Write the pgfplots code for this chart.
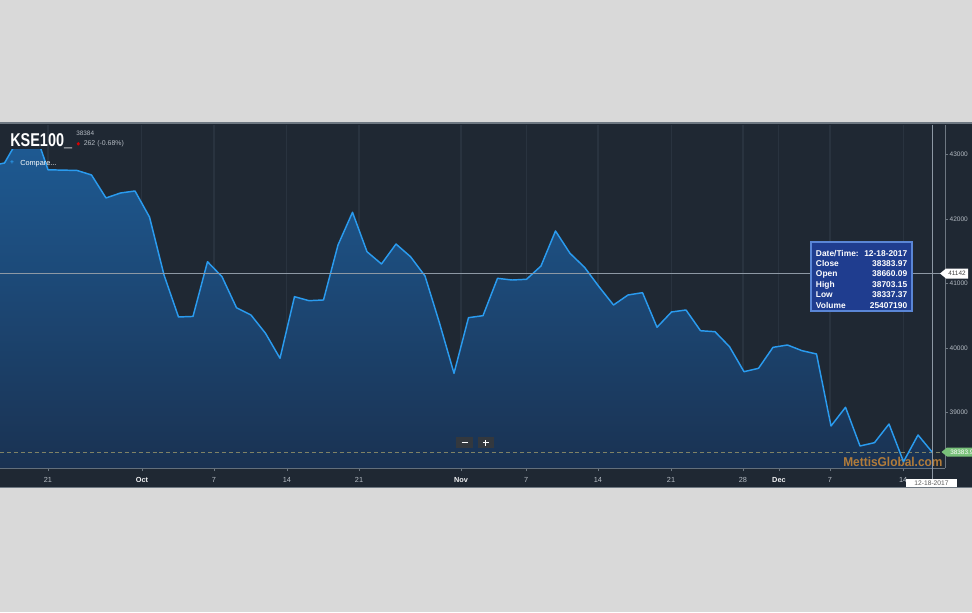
\documentclass[border=0pt]{standalone}
\usepackage{pgfplots}
\pgfplotsset{compat=1.18}
\usepackage{pgfplotstable}
\usepackage{graphicx}
\usepackage{fontspec}
\setmainfont{Liberation Sans}
\definecolor{bgout}{HTML}{D9D9D9}
\definecolor{panel}{HTML}{1F2833}
\definecolor{gridc}{HTML}{29333F}
\definecolor{axisc}{HTML}{6E7882}
\definecolor{ticklab}{HTML}{B4BBC3}
\definecolor{linec}{HTML}{2A9BEF}
\definecolor{areatop}{HTML}{1E5C96}
\definecolor{areabot}{HTML}{1A3252}
\definecolor{dashc}{HTML}{7F8266}
\definecolor{tipfill}{HTML}{1F3D8F}
\definecolor{tipdraw}{HTML}{5A86D6}
\definecolor{mettis}{HTML}{B27C3A}
\definecolor{greenlab}{HTML}{79C17A}
\definecolor{btn}{HTML}{33383E}
\definecolor{crossc}{HTML}{8D98A4}
\pgfplotstableread{
i v
-4 42819
-3 42865
-2 43252
-1 43420
0 42760
1 42755
2 42750
3 42680
4 42324
5 42401
6 42432
7 42029
8 41132
9 40482
10 40490
11 41337
12 41105
13 40625
14 40512
15 40229
16 39842
17 40796
18 40734
19 40745
20 41596
21 42102
22 41492
23 41302
24 41611
25 41415
26 41116
27 40388
28 39610
29 40471
30 40502
31 41080
32 41054
33 41065
34 41271
35 41813
36 41467
37 41251
38 40950
39 40667
40 40822
41 40858
42 40322
43 40559
44 40590
45 40269
46 40254
47 40022
48 39635
49 39687
50 40012
51 40048
52 39960
53 39909
54 38794
55 39084
56 38485
57 38536
58 38825
59 38242
60 38655
61 38384
}\kse
\begin{document}
\begin{tikzpicture}[x=0.75pt,y=0.75pt]
\useasboundingbox (0,0) rectangle (972,612);
\begin{scope}
\clip (0,0) rectangle (972,612);
\fill[bgout] (0,0) rectangle (972,612);
\fill[panel] (0,124) rectangle (972,489);
\draw[axisc, line width=0.8pt] (0,489) -- (972,489);
\draw[axisc, line width=0.8pt] (0,124.5) -- (972,124.5);
% background axis: grid, ticks
\begin{axis}[
  at={(0pt,108pt)}, anchor=south west, scale only axis,
  width=708.75pt, height=257.25pt,
  xmin=-3.3103, xmax=61.862, ymin=38144, ymax=43454,
  axis x line*=bottom, axis y line*=right,
  axis line style={axisc, line width=0.6pt},
  xtick={0,6.48,11.45,16.48,21.45,28.48,32.97,37.93,42.97,47.93,50.41,53.93,58.97},
  xticklabels={21,\textbf{\color{white!80!ticklab}Oct},7,14,21,\textbf{\color{white!80!ticklab}Nov},7,14,21,28,\textbf{\color{white!80!ticklab}Dec},7,14},
  ytick={39000,40000,41000,42000,43000},
  tick style={axisc, line width=0.5pt},
  major tick length=2.3pt,
  tick align=outside,
  xmajorgrids, grid style={gridc, line width=0.8pt},
  x tick label style={font=\fontsize{5.5}{6}\selectfont, text=ticklab, yshift=-1.3pt},
  y tick label style={font=\fontsize{4.9}{5.5}\selectfont, text=ticklab, inner sep=1pt,
     /pgf/number format/1000 sep={}},
  scaled y ticks=false,
  /pgf/number format/assume math mode=true,
]
\end{axis}
% data axis
\begin{axis}[
  at={(0pt,108pt)}, anchor=south west, scale only axis,
  width=708.75pt, height=238.5pt,
  xmin=-3.3103, xmax=61.862, ymin=38144, ymax=43066.6,
  hide axis,
]
\addplot[draw=none, top color=areatop, bottom color=areabot]
  table[x=i,y=v]{\kse} -- (axis cs:61,38144) -- (axis cs:-4,38144) -- cycle;
\node[anchor=base west, inner sep=0, text=mettis, font=\bfseries\fontsize{9.6}{10}\selectfont]
  at (axis cs:54.83,38175) {\scalebox{0.93}[1]{MettisGlobal.com}};
\addplot[dashc, dash pattern=on 3pt off 2.2pt, line width=0.6pt]
  coordinates {(-3.3103,38384) (61.586,38384)};
\addplot[linec, line width=1.1pt, line join=round] table[x=i,y=v]{\kse};
\end{axis}
% crosshair
\draw[crossc, line width=0.6pt] (0,338.5) -- (941,338.5);
\draw[crossc, line width=0.6pt] (932,487) -- (932,133);
% tooltip
\draw[fill=tipfill, draw=tipdraw, line width=0.8pt] (811,370) rectangle (912,301);
\begin{scope}[every node/.style={inner sep=0, text=white, font=\bfseries\fontsize{6.3}{7}\selectfont}]
\node[anchor=base west] at (815.7,355.9) {Date/Time:};
\node[anchor=base east] at (907.5,355.9) {12-18-2017};
\node[anchor=base west] at (815.7,345.9) {Close};
\node[anchor=base east] at (907.5,345.9) {38383.97};
\node[anchor=base west] at (815.7,335.3) {Open};
\node[anchor=base east] at (907.5,335.3) {38660.09};
\node[anchor=base west] at (815.7,324.6) {High};
\node[anchor=base east] at (907.5,324.6) {38703.15};
\node[anchor=base west] at (815.7,314.3) {Low};
\node[anchor=base east] at (907.5,314.3) {38337.37};
\node[anchor=base west] at (815.7,303.6) {Volume};
\node[anchor=base east] at (907.5,303.6) {25407190};
\end{scope}
% right labels
\fill[white] (940,338.5) -- (946,343.5) -- (968,343.5) -- (968,333.5) -- (946,333.5) -- cycle;
\node[inner sep=0, text=black!75, font=\fontsize{4.8}{5}\selectfont] at (957,338.5) {41142};
\fill[greenlab] (941.5,160) -- (947,164.5) -- (980,164.5) -- (980,155.5) -- (947,155.5) -- cycle;
\node[anchor=west, inner sep=0, text=white, font=\fontsize{4.8}{5}\selectfont] at (950,160) {38383.97};
% date box
\fill[white] (906,133) rectangle (957,125);
\node[inner sep=0, text=black!65, font=\fontsize{5}{5.5}\selectfont] at (931.5,129) {12-18-2017};
% header
\node[anchor=base west, inner sep=0, text=white, font=\bfseries\fontsize{13.9}{14}\selectfont]
  at (10,465.3) {\scalebox{0.78}[1]{KSE100\_}};
\node[anchor=base west, inner sep=0, text=ticklab, font=\fontsize{4.8}{5}\selectfont] at (76,476.5) {38384};
\fill[red!85!black] (78.3,470) -- (80,468.2) -- (78.3,466.3) -- (76.6,468.2) -- cycle;
\node[anchor=base west, inner sep=0, text=ticklab, font=\fontsize{5.2}{5.5}\selectfont] at (83.5,466.3) {262 (-0.68\%)};
\node[anchor=base west, inner sep=0, text=white, font=\fontsize{5.5}{6}\selectfont] at (20,446) {Compare...};
\node[inner sep=0, text=linec, font=\bfseries\fontsize{5}{5}\selectfont] at (12,449) {+};
% zoom buttons
\fill[btn] (456,175.3) rectangle (472.7,163.7);
\fill[btn] (477.7,175.3) rectangle (494,163.7);
\draw[white, line width=1pt] (461.5,169.5) -- (467.5,169.5);
\draw[white, line width=1pt] (482.8,169.5) -- (488.8,169.5) (485.8,166.5) -- (485.8,172.5);
\end{scope}
\end{tikzpicture}
\end{document}
